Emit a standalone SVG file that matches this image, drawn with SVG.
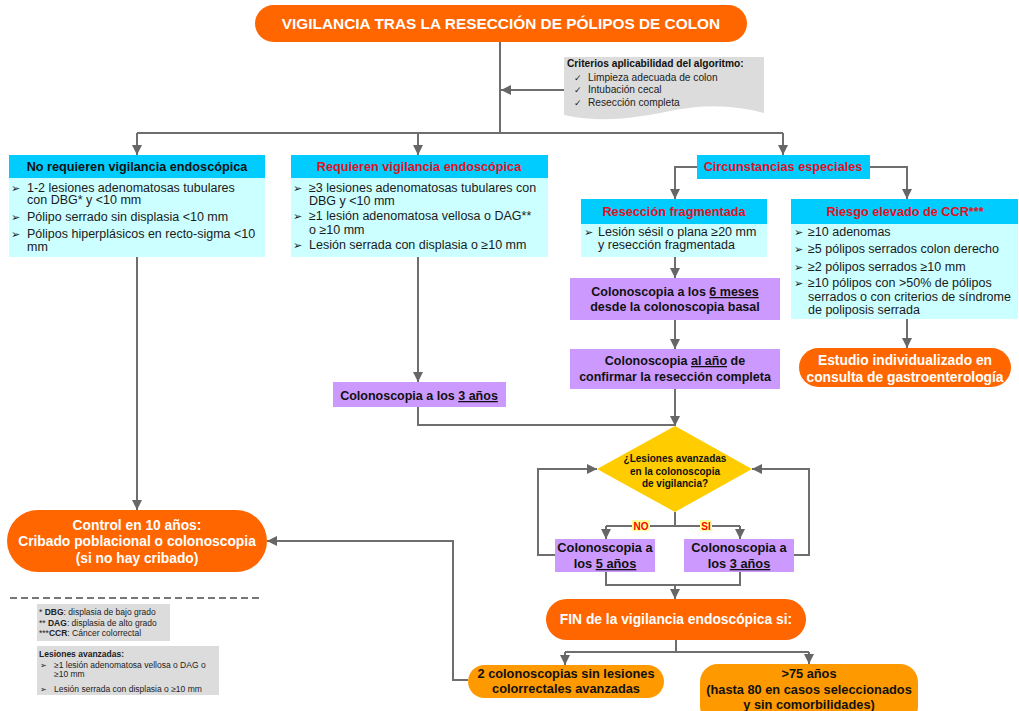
<svg xmlns="http://www.w3.org/2000/svg" width="1019" height="711" viewBox="0 0 1019 711">
<defs>
<marker id="ah" viewBox="0 0 10 10" refX="10" refY="5" markerWidth="10" markerHeight="10" markerUnits="userSpaceOnUse" orient="auto"><path d="M0,0 L10,5 L0,10 z" fill="#666"/></marker>
<style>
text{font-family:"Liberation Sans",Arial,sans-serif;}
.c{fill:none;stroke:#6e6e6e;stroke-width:2;}
.a{marker-end:url(#ah);}
.pill{fill:#FF6600;}
.pill2{fill:#FF9900;}
.hdr{fill:#00CCFF;}
.bdy{fill:#CCFFFF;}
.pur{fill:#CC99FF;}
.wt{fill:#fff;font-weight:bold;text-anchor:middle;}
.bk{fill:#111;font-weight:bold;text-anchor:middle;}
.rd{fill:#E0101E;font-weight:bold;text-anchor:middle;font-size:12.7px;}
.bt{fill:#1a1a1a;font-size:12.5px;}
.bl{fill:#1a1a1a;font-size:11px;font-family:"DejaVu Sans",sans-serif;}
.u{text-decoration:underline;}
.lg{fill:#222;font-size:8.5px;}
</style>
</defs>

<g id="connectors">
<path class="c" d="M500,42 V133"/>
<path class="c" d="M137,133 H783"/>
<path class="c a" d="M137,133 V155"/>
<path class="c a" d="M418,133 V155"/>
<path class="c a" d="M783,133 V155"/>
<path class="c a" d="M564,90 H501"/>
<path class="c a" d="M697,167 H675 V199"/>
<path class="c a" d="M870,167 H907 V199"/>
<path class="c a" d="M137,257 V510"/>
<path class="c a" d="M418,257 V382"/>
<path class="c a" d="M675,257 V278"/>
<path class="c a" d="M675,320 V349"/>
<path class="c a" d="M675,389 V426"/>
<path class="c a" d="M907,319 V348"/>
<path class="c" d="M418,407 V425 H675"/>
<path class="c" d="M675,512 V526"/>
<path class="c" d="M606,526 H740"/>
<path class="c a" d="M606,526 V539"/>
<path class="c a" d="M740,526 V539"/>
<path class="c a" d="M555,555 H538 V469 H597"/>
<path class="c a" d="M794,555 H809 V469 H752"/>
<path class="c" d="M606,572 V585 H740 V572"/>
<path class="c a" d="M675,585 V599"/>
<path class="c" d="M676,640 V652"/>
<path class="c" d="M565,652 H809"/>
<path class="c a" d="M565,652 V665"/>
<path class="c a" d="M809,652 V664"/>
<path class="c a" d="M468,680 H453 V541 H267"/>
</g>

<g id="title">
<rect class="pill" x="255" y="5" width="492" height="37" rx="18.5"/>
<text class="wt" x="501" y="29" font-size="15.4">VIGILANCIA TRAS LA RESECCIÓN DE PÓLIPOS DE COLON</text>
</g>

<g id="criterios">
<path d="M564,57 H764 V113 C735,105 705,104 675,110 C640,117 605,124 564,115 Z" fill="#DCDCDC"/>
<text x="567" y="67" font-size="10.2" font-weight="bold" fill="#111">Criterios aplicabilidad del algoritmo:</text>
<text x="574" y="81" font-size="9" fill="#222" font-family="DejaVu Sans, sans-serif">✓</text>
<text x="588" y="81" font-size="10.2" fill="#222">Limpieza adecuada de colon</text>
<text x="574" y="93" font-size="9" fill="#222" font-family="DejaVu Sans, sans-serif">✓</text>
<text x="588" y="93" font-size="10.2" fill="#222">Intubación cecal</text>
<text x="574" y="106" font-size="9" fill="#222" font-family="DejaVu Sans, sans-serif">✓</text>
<text x="588" y="106" font-size="10.2" fill="#222">Resección completa</text>
</g>

<g id="no-requieren">
<rect class="hdr" x="9" y="155" width="256" height="23"/>
<rect class="bdy" x="9" y="178" width="256" height="79"/>
<text class="bk" x="137" y="171" font-size="12.7">No requieren vigilancia endoscópica</text>
<text class="bl" x="11" y="192">➢</text>
<text class="bt" x="27" y="192">1-2 lesiones adenomatosas tubulares</text>
<text class="bt" x="27" y="204">con DBG* y &lt;10 mm</text>
<text class="bl" x="11" y="221">➢</text>
<text class="bt" x="27" y="221">Pólipo serrado sin displasia &lt;10 mm</text>
<text class="bl" x="11" y="238">➢</text>
<text class="bt" x="27" y="238">Pólipos hiperplásicos en recto-sigma &lt;10</text>
<text class="bt" x="27" y="251">mm</text>
</g>

<g id="requieren">
<rect class="hdr" x="291" y="155" width="257" height="23"/>
<rect class="bdy" x="291" y="178" width="257" height="79"/>
<text class="rd" x="419" y="171">Requieren vigilancia endoscópica</text>
<text class="bl" x="293" y="192">➢</text>
<text class="bt" x="309" y="192">≥3 lesiones adenomatosas tubulares con</text>
<text class="bt" x="309" y="205">DBG y &lt;10 mm</text>
<text class="bl" x="293" y="220">➢</text>
<text class="bt" x="309" y="220">≥1 lesión adenomatosa vellosa o DAG**</text>
<text class="bt" x="309" y="234">o ≥10 mm</text>
<text class="bl" x="293" y="249">➢</text>
<text class="bt" x="309" y="249">Lesión serrada con displasia o ≥10 mm</text>
</g>

<g id="circunstancias">
<rect class="hdr" x="697" y="155" width="173" height="24"/>
<text class="rd" x="783" y="171">Circunstancias especiales</text>
</g>

<g id="reseccion-fragmentada">
<rect class="hdr" x="581" y="199" width="186" height="25"/>
<rect class="bdy" x="581" y="224" width="186" height="33"/>
<text class="rd" x="674" y="216">Resección fragmentada</text>
<text class="bl" x="584" y="236">➢</text>
<text class="bt" x="598" y="236">Lesión sésil o plana ≥20 mm</text>
<text class="bt" x="598" y="249">y resección fragmentada</text>
</g>

<g id="riesgo-elevado">
<rect class="hdr" x="791" y="199" width="227" height="25"/>
<rect class="bdy" x="791" y="224" width="227" height="95"/>
<text class="rd" x="905" y="216">Riesgo elevado de CCR***</text>
<text class="bl" x="794" y="236">➢</text>
<text class="bt" x="808" y="236">≥10 adenomas</text>
<text class="bl" x="794" y="253">➢</text>
<text class="bt" x="808" y="253">≥5 pólipos serrados colon derecho</text>
<text class="bl" x="794" y="271">➢</text>
<text class="bt" x="808" y="271">≥2 pólipos serrados ≥10 mm</text>
<text class="bl" x="794" y="287">➢</text>
<text class="bt" x="808" y="287">≥10 pólipos con &gt;50% de pólipos</text>
<text class="bt" x="808" y="301">serrados o con criterios de síndrome</text>
<text class="bt" x="808" y="314">de poliposis serrada</text>
</g>

<g id="colono-6-meses">
<rect class="pur" x="570" y="278" width="210" height="42"/>
<text class="bk" x="675" y="296" font-size="12.5">Colonoscopia a los <tspan class="u">6 meses</tspan></text>
<text class="bk" x="675" y="311" font-size="12.5">desde la colonoscopia basal</text>
</g>

<g id="colono-al-anio">
<rect class="pur" x="570" y="349" width="210" height="40"/>
<text class="bk" x="675" y="365" font-size="12.5">Colonoscopia <tspan class="u">al año</tspan> de</text>
<text class="bk" x="675" y="381" font-size="12.5">confirmar la resección completa</text>
</g>

<g id="estudio-individualizado">
<rect class="pill" x="799" y="348" width="212" height="39" rx="19.5"/>
<text class="wt" x="905" y="365" font-size="13.8">Estudio individualizado en</text>
<text class="wt" x="905" y="382" font-size="13.8">consulta de gastroenterología</text>
</g>

<g id="colono-3-anios-a">
<rect class="pur" x="333" y="382" width="173" height="25"/>
<text class="bk" x="419" y="400" font-size="12.5">Colonoscopia a los <tspan class="u">3 años</tspan></text>
</g>

<g id="decision">
<polygon points="675,426 752,469 675,512 597,469" fill="#FFCC00"/>
<text class="bk" x="675" y="462" font-size="10">¿Lesiones avanzadas</text>
<text class="bk" x="675" y="475" font-size="10">en la colonoscopia</text>
<text class="bk" x="675" y="487" font-size="10">de vigilancia?</text>
</g>

<g id="labels">
<rect x="632" y="520" width="18" height="11" fill="#FFFF99"/>
<text x="641" y="529.5" font-size="10" font-weight="bold" fill="#FF0000" text-anchor="middle">NO</text>
<rect x="700" y="520" width="12" height="11" fill="#FFFF99"/>
<text x="706" y="529.5" font-size="10" font-weight="bold" fill="#FF0000" text-anchor="middle">SI</text>
</g>

<g id="colono-5-anios">
<rect class="pur" x="555" y="539" width="100" height="33"/>
<text class="bk" x="605" y="552" font-size="12.8">Colonoscopia a</text>
<text class="bk" x="605" y="568" font-size="12.8">los <tspan class="u">5 años</tspan></text>
</g>

<g id="colono-3-anios-b">
<rect class="pur" x="684" y="539" width="110" height="33"/>
<text class="bk" x="739" y="552" font-size="12.8">Colonoscopia a</text>
<text class="bk" x="739" y="568" font-size="12.8">los <tspan class="u">3 años</tspan></text>
</g>

<g id="control-10">
<rect class="pill" x="7" y="510" width="260" height="62" rx="31"/>
<text class="wt" x="137" y="530" font-size="13.8">Control en 10 años:</text>
<text class="wt" x="137" y="546" font-size="13.8">Cribado poblacional o colonoscopia</text>
<text class="wt" x="137" y="563" font-size="13.8">(si no hay cribado)</text>
</g>

<g id="fin">
<rect class="pill" x="546" y="599" width="260" height="41" rx="20.5"/>
<text class="wt" x="676" y="624" font-size="13.8">FIN de la vigilancia endoscópica si:</text>
</g>

<g id="dos-colonoscopias">
<rect class="pill2" x="468" y="665" width="196" height="33" rx="16.5"/>
<text class="bk" x="566" y="678" font-size="12.8">2 colonoscopias sin lesiones</text>
<text class="bk" x="566" y="693" font-size="12.8">colorrectales avanzadas</text>
</g>

<g id="mayor-75">
<rect class="pill2" x="700" y="664" width="218" height="60" rx="18"/>
<text class="bk" x="809" y="678" font-size="12.8">&gt;75 años</text>
<text class="bk" x="809" y="694" font-size="12.8">(hasta 80 en casos seleccionados</text>
<text class="bk" x="809" y="709" font-size="12.8">y sin comorbilidades)</text>
</g>

<g id="legend">
<line x1="10" y1="598" x2="263" y2="598" stroke="#777" stroke-width="2" stroke-dasharray="7,4"/>
<rect x="37" y="604" width="133" height="37" fill="#DCDCDC"/>
<text class="lg" x="39" y="615">* <tspan font-weight="bold">DBG</tspan>: displasia de bajo grado</text>
<text class="lg" x="39" y="626">** <tspan font-weight="bold">DAG</tspan>: displasia de alto grado</text>
<text class="lg" x="39" y="636">***<tspan font-weight="bold">CCR</tspan>: Cáncer colorrectal</text>
<rect x="37" y="646" width="182" height="49" fill="#DCDCDC"/>
<text class="lg" x="39" y="657" font-weight="bold">Lesiones avanzadas:</text>
<text x="40" y="668" font-size="8" fill="#222" font-family="DejaVu Sans, sans-serif">➢</text>
<text class="lg" x="54" y="668">≥1 lesión adenomatosa vellosa o DAG o</text>
<text class="lg" x="54" y="677">≥10 mm</text>
<text x="40" y="692" font-size="8" fill="#222" font-family="DejaVu Sans, sans-serif">➢</text>
<text class="lg" x="54" y="692">Lesión serrada con displasia o ≥10 mm</text>
</g>
</svg>
